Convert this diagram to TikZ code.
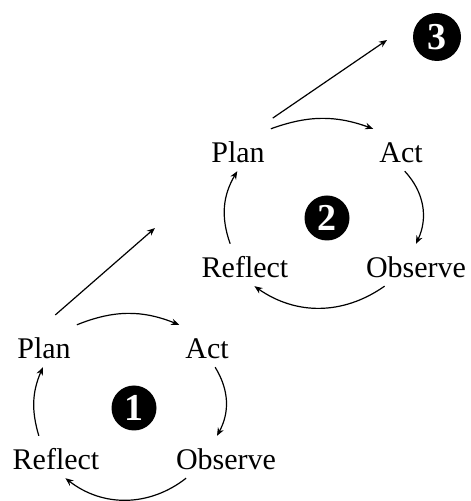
\documentclass[tikz,border=0pt]{standalone}
\usepackage{fontspec}
\setmainfont{Liberation Serif}
\usetikzlibrary{arrows.meta}
\tikzset{
  word/.style={font=\fontsize{30}{32}\selectfont, anchor=base,
    inner xsep=6pt, inner ysep=8pt, text height=26pt, text depth=0pt},
  badge/.style={circle, fill=black, text=white, inner sep=0pt,
    minimum size=45pt, font=\fontsize{38}{40}\selectfont\bfseries},
  cycle/.style={line width=1.2pt, -{Stealth[length=8pt,width=6.5pt]}},
}

\begin{document}
\begin{tikzpicture}[x=1pt,y=1pt]
\useasboundingbox (0,0) rectangle (471,501);

\node[word] (plan1) at (44,142) {Plan};
\node[word] (act1) at (207,142) {Act};
\node[word] (reflect1) at (56,31) {Reflect};
\node[word] (observe1) at (226,31) {Observe};
\node[badge] (num1) at (134,93) {1};

\node[word] (plan2) at (238,338) {Plan};
\node[word] (act2) at (401,338) {Act};
\node[word] (reflect2) at (245,223) {Reflect};
\node[word] (observe2) at (416,223) {Observe};
\node[badge] (num2) at (327,283) {2};

\node[badge, minimum size=48pt] (num3) at (437,464) {3};

\coordinate (up1) at (155,273);
\coordinate (up2) at (387,461);

\draw[cycle] (plan1.north east) to[bend left=22] (act1.north west);
\draw[cycle] (act1.-69) to[bend left=30] (observe1.113);
\draw[cycle] (observe1.-152) to[bend left=38] (reflect1.-66);
\draw[cycle] (reflect1.129) to[bend left=20] (plan1.-93);
\draw[cycle, shorten <=15pt] (plan1.north) -- (up1);

\draw[cycle] (plan2.north east) to[bend left=20] (act2.north west);
\draw[cycle] (act2.-80) to[bend left=34] (observe2.north);
\draw[cycle] (observe2.-146) to[bend left=35] (reflect2.-66);
\draw[cycle] (reflect2.125) to[bend left=25] (plan2.-92);
\draw[cycle, shorten <=19pt] (plan2.48) -- (up2);
\end{tikzpicture}
\end{document}
